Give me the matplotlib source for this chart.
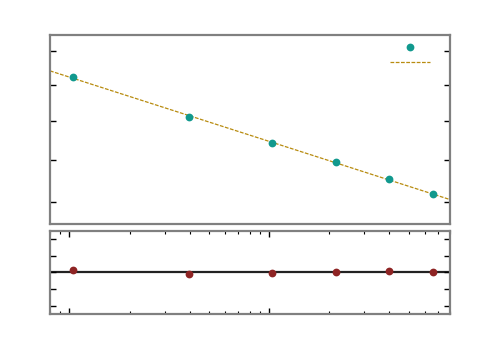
import numpy as np
import matplotlib
matplotlib.use("Agg")
import matplotlib.pyplot as plt
from matplotlib.ticker import NullLocator, FixedLocator, LogLocator

# data
x = [1.04, 3.97, 10.3, 21.5, 39.7, 66.1]
y = [15.23, 14.11, 13.43, 12.95, 12.54, 12.18]
resid = [0.12, -0.12, -0.02, 0.04, 0.08, 0.04]

x_lim = (0.80, 80.4)
y_lim = (11.51, 16.5)
y_ticks = [12, 13, 14, 15, 16]
r_lim = (-2.5, 2.5)
r_ticks = [-2, -1, 0, 1, 2]

pt_color = "#11998e"
fit_color = "#b88c10"
res_color = "#8e2424"
spine_color = "#808080"

# power-law fit in log space
slope, icpt = np.polyfit(np.log10(x), np.log10(y), 1)
xf = np.array(x_lim)
yf = 10 ** (icpt + slope * np.log10(xf))

fig = plt.figure(figsize=(5, 3.5), dpi=100)
ax = fig.add_axes([0.1, 0.36, 0.8, 0.54])
axr = fig.add_axes([0.1, 0.103, 0.8, 0.238])

pts, = ax.plot(x, y, "o", color=pt_color, ms=5.6, mec="none", zorder=3)
fit, = ax.plot(xf, yf, color=fit_color, lw=0.9, dashes=(3, 1.2))
ax.set_xscale("log")
ax.set_yscale("log")
ax.set_xlim(x_lim)
ax.set_ylim(y_lim)
ax.yaxis.set_major_locator(FixedLocator(y_ticks))
ax.yaxis.set_minor_locator(NullLocator())
ax.xaxis.set_major_locator(NullLocator())
ax.xaxis.set_minor_locator(NullLocator())
ax.set_yticklabels([])
ax.tick_params(axis="y", which="both", direction="in", left=True, right=True,
               length=4, width=1, color="black", labelleft=False)
ax.tick_params(axis="x", which="both", bottom=False, top=False, labelbottom=False)

leg = ax.legend([pts, fit], ["", ""], loc="upper right",
                bbox_to_anchor=(0.95, 0.97), frameon=False, numpoints=1,
                handlelength=2.88, handletextpad=0, borderpad=0,
                borderaxespad=0, labelspacing=0.05)

axr.axhline(0, color="#222222", lw=1.6, zorder=1)
axr.plot(x, resid, "o", color=res_color, ms=5.6, mec="none", zorder=3)
axr.set_xscale("log")
axr.set_xlim(x_lim)
axr.set_ylim(r_lim)
axr.yaxis.set_major_locator(FixedLocator(r_ticks))
axr.xaxis.set_major_locator(LogLocator(base=10))
axr.xaxis.set_minor_locator(LogLocator(base=10, subs=np.arange(2, 10)))
axr.tick_params(axis="both", which="major", direction="in", left=True, right=True,
                top=True, bottom=True, length=4, width=1, color="black",
                labelleft=False, labelbottom=False)
axr.tick_params(axis="x", which="minor", direction="in", top=True, bottom=True,
                length=2, width=0.8, color="black", labelbottom=False)
axr.tick_params(axis="y", which="minor", left=False, right=False)

for a in (ax, axr):
    for s in a.spines.values():
        s.set_color(spine_color)
        s.set_linewidth(1.6)

fig.savefig("out.png", dpi=100)
